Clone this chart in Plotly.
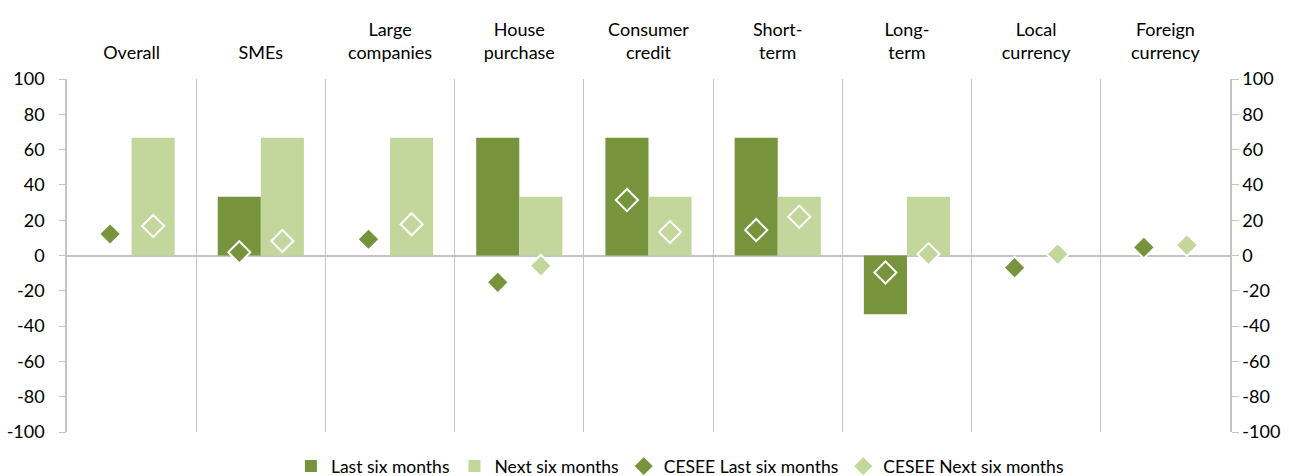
import plotly.graph_objects as go

categories = ["Overall", "SMEs", "Large<br>companies", "House<br>purchase", "Consumer<br>credit",
              "Short-<br>term", "Long-<br>term", "Local<br>currency", "Foreign<br>currency"]
last_six = [0, 33.3, 0, 66.7, 66.7, 66.7, -33.3, 0, 0]
next_six = [66.7, 66.7, 66.7, 33.3, 33.3, 33.3, 33.3, 0, 0]
cesee_last = [12.2, 1.8, 9.2, -15.2, 31.4, 14.4, -9.6, -6.9, 4.6]
cesee_next = [16.7, 8.2, 17.7, -5.8, 13.3, 22.0, 0.8, 0.8, 5.9]
y_ticks = [-100, -80, -60, -40, -20, 0, 20, 40, 60, 80, 100]
y_tick_text = ["-100", "-80", "-60", "-40", "-20", "0", "20", "40", "60", "80", "100"]

DARK = "#77933C"
LIGHT = "#C3D69B"
FONT = "Lato, Roboto, sans-serif"

fig = go.Figure()
fig.add_trace(go.Bar(x=categories, y=last_six, name="Last six months", marker_color=DARK,
                     marker_line_width=0, offsetgroup="a"))
fig.add_trace(go.Bar(x=categories, y=next_six, name="Next six months", marker_color=LIGHT,
                     marker_line_width=0, offsetgroup="b"))
fig.add_trace(go.Scatter(x=categories, y=cesee_last, name="CESEE Last six months", mode="markers",
                         offsetgroup="a",
                         marker=dict(symbol="diamond", size=17, color=DARK,
                                     line=dict(color="white", width=2))))
fig.add_trace(go.Scatter(x=categories, y=cesee_next, name="CESEE Next six months", mode="markers",
                         offsetgroup="b",
                         marker=dict(symbol="diamond", size=17, color=LIGHT,
                                     line=dict(color="white", width=2))))

axis_col = "#C4C4C4"
fig.update_layout(
    width=1289, height=476,
    margin=dict(l=67, r=59, t=79, b=44, autoexpand=False),
    paper_bgcolor="white", plot_bgcolor="white",
    font=dict(family=FONT, size=18, color="black"),
    barmode="group", bargap=1/3, bargroupgap=0,
    scattermode="group", scattergap=1/3,
    xaxis=dict(side="top", tickson="boundaries", showgrid=True, gridcolor=axis_col, gridwidth=1.3,
               ticks="", showline=False, zeroline=False, tickfont=dict(size=18),
               ticklabelstandoff=15, automargin=False),
    # left labels (transparent long ticks just to push the labels away from the axis)
    yaxis=dict(range=[-100, 100], tickvals=y_ticks, ticktext=y_tick_text,
               showgrid=False, zeroline=True, zerolinecolor=axis_col, zerolinewidth=2,
               showline=True, linecolor=axis_col, linewidth=1.5, ticks="outside", ticklen=17,
               tickcolor="rgba(0,0,0,0)", tickfont=dict(size=18), automargin=False),
    yaxis2=dict(range=[-100, 100], tickvals=y_ticks, ticktext=y_tick_text,
                overlaying="y", side="right", matches="y", showgrid=False, zeroline=False,
                showline=True, linecolor=axis_col, linewidth=1.5, ticks="outside", ticklen=7,
                tickcolor=axis_col, tickfont=dict(size=18), automargin=False),
    # visible short ticks on the left axis
    yaxis3=dict(range=[-100, 100], tickvals=y_ticks, overlaying="y", side="left", matches="y",
                showgrid=False, zeroline=False, showline=False, ticks="outside", ticklen=7,
                tickcolor=axis_col, showticklabels=False, automargin=False),
    legend=dict(orientation="h", x=0.527, xanchor="center", y=-0.097, yanchor="middle",
                font=dict(size=17.5), itemwidth=30, tracegroupgap=0),
    showlegend=True,
)
fig.add_trace(go.Scatter(x=[], y=[], yaxis="y2", showlegend=False, hoverinfo="skip"))
fig.add_trace(go.Scatter(x=[], y=[], yaxis="y3", showlegend=False, hoverinfo="skip"))

fig.write_html("out.html", post_script="document.body.style.margin='0';",
               config={"displayModeBar": False})
